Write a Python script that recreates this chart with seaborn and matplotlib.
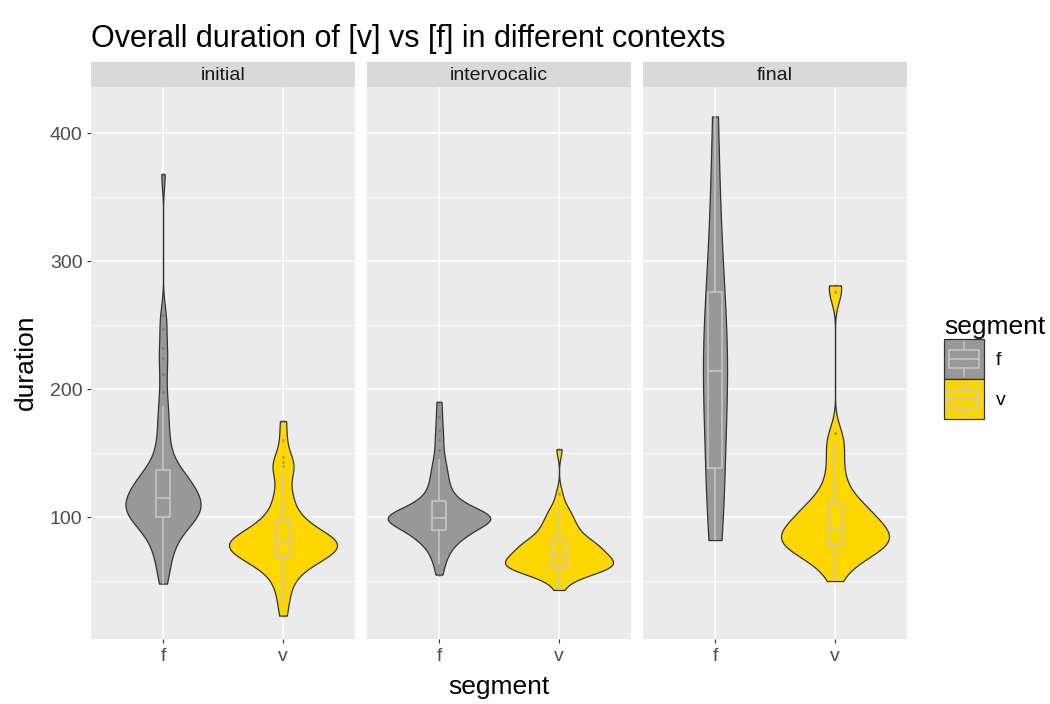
import numpy as np
import pandas as pd
import seaborn as sns
import matplotlib.pyplot as plt
from matplotlib.legend_handler import HandlerBase
from matplotlib.patches import Rectangle, Patch
from matplotlib.lines import Line2D
from matplotlib.ticker import FixedLocator

# ---- data -----------------------------------------------------------------
contexts = ["initial", "intervocalic", "final"]
segments = ["f", "v"]
palette = {"f": "#989898", "v": "#FFD700"}
y_ticks = [100, 200, 300, 400]
y_minor = [50, 150, 250, 350]

# durations (ms) of each segment in each context
initial_f = [48, 56, 63, 69, 74, 78, 82, 85, 88, 90, 92, 94, 96, 98, 99,
             100, 101, 102, 103, 104, 105, 106, 107, 108, 109, 110, 111, 112, 113, 114,
             116, 117, 118, 119, 121, 122, 124, 125, 127, 128, 130, 131, 133, 134, 136,
             140, 145, 150, 156, 163, 171, 179, 187, 198, 212, 224, 232, 247, 258, 368]
initial_v = [23, 34, 42, 48, 53, 57, 60, 62, 64, 66, 67, 68, 69,
             70, 71, 72, 73, 74, 75, 76, 77, 78, 78, 79, 80, 80,
             81, 82, 83, 83, 84, 85, 86, 87, 89, 91, 93, 95, 97,
             99, 102, 105, 112, 116, 120, 130, 136, 140, 143, 147, 160, 175]
intervocalic_f = [55, 63, 68, 72, 75, 78, 80, 82, 84, 85, 86, 87, 88, 89, 90,
                  90, 92, 94, 95, 96, 96, 97, 97, 98, 98, 98, 99, 99, 99, 99,
                  100, 100, 101, 101, 102, 102, 103, 104, 105, 106, 107, 108, 110, 111, 112,
                  114, 116, 119, 122, 125, 128, 132, 136, 140, 145, 152, 160, 168, 178, 190]
intervocalic_v = [43, 50, 54, 56, 57, 58, 58, 59, 60, 60, 61, 61, 62,
                  62, 63, 63, 64, 64, 65, 66, 66, 67, 68, 69, 70, 71,
                  72, 72, 73, 74, 75, 76, 77, 78, 79, 80, 80, 81, 82,
                  84, 86, 88, 90, 92, 94, 96, 99, 102, 105, 108, 118, 153]
final_f = [82, 105, 125, 138, 195, 205, 214, 225, 240, 276, 300, 345, 413]
final_v = [50, 60, 65, 68, 71, 73, 75, 76, 77, 78,
           79, 80, 82, 83, 85, 86, 87, 88, 89, 90,
           92, 94, 96, 98, 100, 102, 104, 106, 108, 110,
           113, 118, 124, 131, 140, 150, 158, 166, 276, 281]

durations = {
    ("initial", "f"): initial_f, ("initial", "v"): initial_v,
    ("intervocalic", "f"): intervocalic_f, ("intervocalic", "v"): intervocalic_v,
    ("final", "f"): final_f, ("final", "v"): final_v,
}
df = pd.DataFrame(
    [(c, s, d) for (c, s), vals in durations.items() for d in vals],
    columns=["context", "segment", "duration"],
)


def nrd0(kde):
    """Silverman's rule of thumb (R's bw.nrd0), as a factor of the data sd."""
    x = np.asarray(kde.dataset).ravel()
    sd = x.std(ddof=1)
    q75, q25 = np.percentile(x, [75, 25])
    lo = min(sd, (q75 - q25) / 1.34) if q75 > q25 else sd
    return 0.9 * lo * len(x) ** -0.2 / sd


# ---- styling --------------------------------------------------------------
plt.rcParams["font.family"] = ["Liberation Sans", "DejaVu Sans"]
PANEL_BG = "#EBEBEB"
STRIP_BG = "#D9D9D9"
BOX_LINE = "#C8C8C8"
OUTLINE = "#333333"
SMALL = 14
LARGE = 19

W, H = 1050, 704
fig = plt.figure(figsize=(W / 100, H / 100), dpi=100)
fig.patch.set_facecolor("white")

panel_x = [(91, 355), (367, 631), (643, 907)]
top, bottom = 87, 639
strip_top = 62

for i, (ctx, (x0, x1)) in enumerate(zip(contexts, panel_x)):
    ax = fig.add_axes([x0 / W, 1 - bottom / H, (x1 - x0) / W, (bottom - top) / H])
    ax.set_facecolor(PANEL_BG)
    sub = df[df["context"] == ctx]

    sns.violinplot(
        data=sub, x="segment", y="duration", hue="segment",
        order=segments, hue_order=segments, palette=palette,
        cut=0, density_norm="area", common_norm=True, inner=None,
        width=0.9, linecolor=OUTLINE, linewidth=0.9, saturation=1,
        bw_method=nrd0, gridsize=512, legend=False, ax=ax, zorder=2,
    )
    sns.boxplot(
        data=sub, x="segment", y="duration", order=segments,
        width=0.12, fill=False, color=BOX_LINE, linewidth=1.1,
        showcaps=False, saturation=1,
        flierprops=dict(marker="o", markersize=2.2, markerfacecolor="#666666",
                        markeredgecolor="none", alpha=0.45),
        ax=ax, zorder=3,
    )

    ax.set_xlim(-0.6, 1.6)
    ax.set_ylim(4.7, 436)
    ax.yaxis.set_major_locator(FixedLocator(y_ticks))
    ax.yaxis.set_minor_locator(FixedLocator(y_minor))
    ax.grid(True, which="major", color="white", linewidth=1.1, zorder=0)
    ax.grid(True, which="minor", axis="y", color="white", linewidth=0.55, zorder=0)
    ax.set_axisbelow(True)
    for sp in ax.spines.values():
        sp.set_visible(False)
    ax.set_xlabel("")
    ax.set_ylabel("")
    ax.tick_params(axis="both", which="major", length=2.7, width=0.8,
                   color=OUTLINE, labelcolor="#4D4D4D", labelsize=SMALL, pad=3.5)
    ax.tick_params(axis="y", which="minor", length=0)
    if i > 0:
        ax.tick_params(axis="y", which="both", length=0, labelleft=False)

    # facet strip
    sax = fig.add_axes([x0 / W, 1 - top / H, (x1 - x0) / W, (top - strip_top) / H])
    sax.set_facecolor(STRIP_BG)
    sax.set_xticks([])
    sax.set_yticks([])
    for sp in sax.spines.values():
        sp.set_visible(False)
    sax.text(0.5, 0.45, ctx, ha="center", va="center", fontsize=SMALL,
             color="#1A1A1A", transform=sax.transAxes)

# titles
fig.text(91 / W, 1 - 39 / H, "Overall duration of [v] vs [f] in different contexts",
         ha="left", va="center", fontsize=22, color="black")
fig.text((91 + 907) / 2 / W, 1 - 687 / H, "segment", ha="center", va="center",
         fontsize=LARGE, color="black")
fig.text(26 / W, 1 - 362 / H, "duration", ha="center", va="center",
         rotation=90, fontsize=LARGE, color="black")


# legend keys: filled violin swatch with a boxplot glyph
class ViolinBoxHandler(HandlerBase):
    def create_artists(self, legend, orig_handle, xdescent, ydescent,
                       width, height, fontsize, trans):
        x0, y0 = -xdescent, -ydescent
        fc = orig_handle.get_facecolor()
        rect = Rectangle((x0, y0), width, height, facecolor=fc,
                         edgecolor=OUTLINE, linewidth=0.9, transform=trans)
        box = Rectangle((x0 + 0.12 * width, y0 + 0.27 * height), 0.76 * width,
                        0.46 * height, facecolor="none", edgecolor=BOX_LINE,
                        linewidth=1.1, transform=trans)
        med = Line2D([x0 + 0.12 * width, x0 + 0.88 * width], [y0 + 0.5 * height] * 2,
                     color=BOX_LINE, linewidth=1.1, transform=trans)
        wl = Line2D([x0 + 0.5 * width] * 2, [y0 + 0.08 * height, y0 + 0.27 * height],
                    color=BOX_LINE, linewidth=1.1, transform=trans)
        wu = Line2D([x0 + 0.5 * width] * 2, [y0 + 0.73 * height, y0 + 0.92 * height],
                    color=BOX_LINE, linewidth=1.1, transform=trans)
        return [rect, box, med, wl, wu]


handles = [Patch(facecolor=palette[s], label=s) for s in segments]
fig.legend(handles=handles, labels=segments, title="segment",
           loc="upper left", bbox_to_anchor=(944 / W, 1 - 315 / H),
           frameon=False, fontsize=SMALL, title_fontsize=LARGE, alignment="left",
           handlelength=2.05, handleheight=2.8, labelspacing=0.0,
           handletextpad=0.6, borderpad=0, borderaxespad=0,
           handler_map={Patch: ViolinBoxHandler()})

fig.savefig("out.png", dpi=100, facecolor="white")
